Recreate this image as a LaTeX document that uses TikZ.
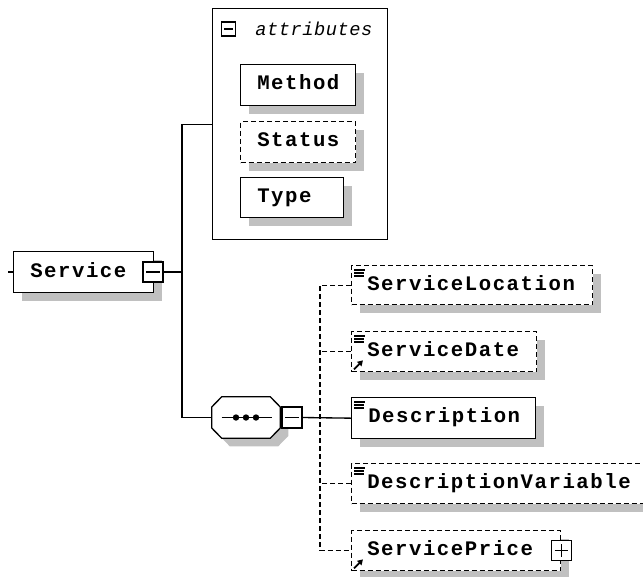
\documentclass[tikz,border=0pt]{standalone}
\usepackage{fontspec}
\newfontfamily\elemfont[LetterSpace=7.5]{Liberation Mono}
\newfontfamily\attrfont[LetterSpace=3]{Liberation Mono}
\usetikzlibrary{shadows,arrows.meta,calc}
\definecolor{shgray}{HTML}{C0C0C0}
\begin{document}
\begin{tikzpicture}[x=0.75pt,y=-0.75pt,
  shd/.style={general shadow={fill=shgray, shadow xshift=6pt, shadow yshift=-6pt}},
  ebox/.style={draw, line width=1pt, fill=white, anchor=north west, inner sep=0pt, shd},
  dbox/.style={ebox, dash pattern=on 3.75pt off 2.25pt},
  tog/.style={draw, line width=1pt, fill=white, inner sep=0pt, minimum width=15pt, minimum height=15pt},
  lbl/.style={anchor=base west, inner sep=0pt, font=\elemfont\bfseries\fontsize{15.5pt}{16pt}\selectfont},
  conn/.style={line width=1pt},
  dconn/.style={line width=1pt, dash pattern=on 3.75pt off 2.25pt},
  simp/.style={line width=0.8pt},
  refarrow/.style={line width=1.3pt, -{Triangle[length=4pt,width=4.5pt]}}
]
\useasboundingbox (0,0) rectangle (643,576);
\clip (0,0) rectangle (643,576);

% Service
\node[ebox, minimum width=105pt, minimum height=30.75pt] (svc) at (13,251) {};
\node[lbl] (svct) at (30,277) {Service};
\node[tog] (svcm) at (153,272) {};
\draw[conn] ($(svcm.west)+(4,0)$) -- ($(svcm.east)+(-4,0)$);
\coordinate (stub) at (8,272);
\draw[conn] (stub) -- (svc.west |- stub);

% attributes
\node[draw, line width=1pt, fill=white, anchor=north west, inner sep=0pt, minimum width=131.25pt, minimum height=173.25pt] (attr) at (212,8) {};
\node[draw, line width=0.8pt, inner sep=0pt, minimum width=10pt, minimum height=10.5pt] (attrm) at (228.5,29) {};
\draw[line width=0.8pt] ($(attrm.west)+(3,0)$) -- ($(attrm.east)+(-3,0)$);
\node[anchor=base west, inner sep=0pt, font=\attrfont\itshape\fontsize{14pt}{15pt}\selectfont] (attrt) at (255,35) {attributes};

\node[ebox, minimum width=86.25pt, minimum height=30.75pt] (meth) at (240,64) {};
\node[lbl] (metht) at (257,89) {Method};
\node[dbox, minimum width=86.25pt, minimum height=30.75pt] (stat) at (240,121) {};
\node[lbl] (statt) at (257,146) {Status};
\node[ebox, minimum width=77.25pt, minimum height=30pt] (type) at (240,177) {};
\node[lbl] (typet) at (257,202) {Type};

% sequence
\node[inner sep=0pt, minimum width=51pt, minimum height=30.75pt] (seq) at (246,417.5) {};
\fill[shgray] ($(seq.west)+(8,-10.5)$) -- ($(seq.north west)+(18,8)$) -- ($(seq.north east)+(-2,8)$) -- ($(seq.east)+(8,-2.5)$) -- ($(seq.east)+(8,18.5)$) -- ($(seq.south east)+(-2,8)$) -- ($(seq.south west)+(18,8)$) -- ($(seq.west)+(8,18.5)$) -- cycle;
\draw[line width=1pt, fill=white] ($(seq.west)+(0,-10.5)$) -- ($(seq.north west)+(10,0)$) -- ($(seq.north east)+(-10,0)$) -- ($(seq.east)+(0,-10.5)$) -- ($(seq.east)+(0,10.5)$) -- ($(seq.south east)+(-10,0)$) -- ($(seq.south west)+(10,0)$) -- ($(seq.west)+(0,10.5)$) -- cycle;
\draw[conn] ($(seq.west)+(10,0)$) -- ($(seq.east)+(-8,0)$);
\foreach \dx in {-10,0,10} \fill ($(seq.center)+(\dx,0)$) circle (2.4pt);
\node[tog, minimum height=15.75pt] (seqm) at (292,417.5) {};
\draw[conn] ($(seqm.west)+(4,0)$) -- ($(seqm.east)+(-4,0)$);

% connectors from Service
\coordinate (bus) at (182,272);
\draw[conn] (svcm.east) -- (bus);
\draw[conn] (attr.west) -| (bus) |- (seq.west);

% children
\node[dbox, minimum width=180.75pt, minimum height=29.25pt] (loc) at (351,265) {};
\node[lbl] (loct) at (367,290) {ServiceLocation};
\node[dbox, minimum width=138.75pt, minimum height=30pt] (date) at (351,331) {};
\node[lbl] (datet) at (367,356) {ServiceDate};
\node[ebox, minimum width=138pt, minimum height=30.75pt] (desc) at (351,397) {};
\node[lbl] (desct) at (368,422) {Description};
\node[dbox, minimum width=225pt, minimum height=30pt] (dvar) at (351,463) {};
\node[lbl] (dvart) at (367,488) {DescriptionVariable};
\node[dbox, minimum width=156.75pt, minimum height=30pt] (price) at (351,530) {};
\node[lbl] (pricet) at (367,555) {ServicePrice};
\node[tog] (pricep) at (price.east) {};
\draw[conn] ($(pricep.west)+(4,0)$) -- ($(pricep.east)+(-4,0)$);
\draw[conn] ($(pricep.north)+(0,4)$) -- ($(pricep.south)+(0,-4)$);

% simple-content marks
\foreach \b in {loc,date,desc,dvar}{
  \draw[simp] ($(\b.north west)+(3,5)$) -- ++(11,0);
  \draw[simp] ($(\b.north west)+(3,8)$) -- ++(10,0);
  \draw[simp] ($(\b.north west)+(3,11)$) -- ++(10,0);
}
% reference arrows
\foreach \b in {date,price}{
  \draw[refarrow] ($(\b.south west)+(3,-3)$) -- ($(\b.south west)+(12,-12)$);
}

% sequence connectors
\coordinate (cb) at (320,417.5);
\draw[conn] (seqm.east) -- (desc.west);
\draw[dconn] (loc.west) -| (cb |- loc.west) -- (cb |- price.west) -- (price.west);
\draw[dconn] (date.west) -- (date.west -| cb);
\draw[dconn] (dvar.west) -- (dvar.west -| cb);
\end{tikzpicture}
\end{document}
